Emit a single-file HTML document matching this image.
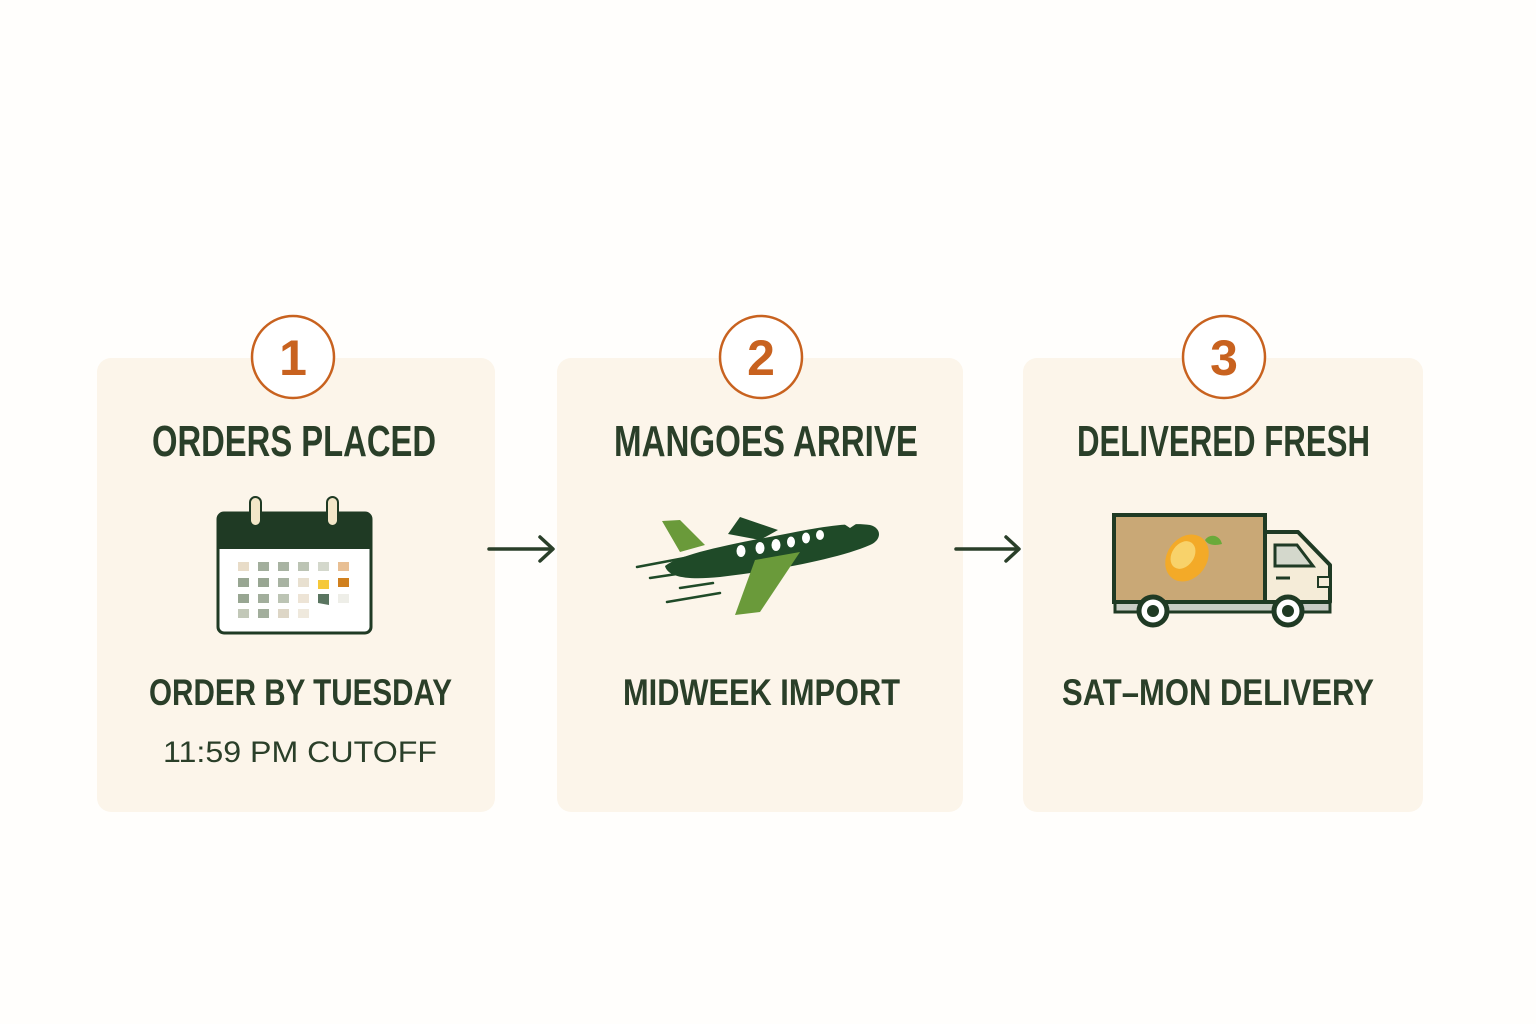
<!DOCTYPE html>
<html><head><meta charset="utf-8"><style>
html,body{margin:0;padding:0;background:#fff;}
svg{display:block}
.t{font-family:"Liberation Sans Narrow","Liberation Sans",sans-serif;font-weight:bold;fill:#2a3f29;}
.n{font-family:"Liberation Sans",sans-serif;fill:#c8621f;font-size:50px;font-weight:bold;}
</style></head><body>
<svg width="1536" height="1024" viewBox="0 0 1536 1024" xmlns="http://www.w3.org/2000/svg">
<rect width="1536" height="1024" fill="#fffefc"/>
<rect x="97" y="358" width="398" height="454" rx="14" fill="#fcf5ea"/>
<rect x="557" y="358" width="406" height="454" rx="14" fill="#fcf5ea"/>
<rect x="1023" y="358" width="400" height="454" rx="14" fill="#fcf5ea"/>
<g fill="#fff" stroke="#c8621f" stroke-width="2.5">
<circle cx="293" cy="357" r="41"/><circle cx="761" cy="357" r="41"/><circle cx="1224" cy="357" r="41"/>
</g>
<text class="n" x="293" y="375" text-anchor="middle">1</text>
<text class="n" x="761" y="375" text-anchor="middle">2</text>
<text class="n" x="1224" y="375" text-anchor="middle">3</text>
<text class="t" x="152" y="456" font-size="44" textLength="284" lengthAdjust="spacingAndGlyphs">ORDERS PLACED</text>
<text class="t" x="614" y="456" font-size="44" textLength="304" lengthAdjust="spacingAndGlyphs">MANGOES ARRIVE</text>
<text class="t" x="1077" y="456" font-size="44" textLength="293" lengthAdjust="spacingAndGlyphs">DELIVERED FRESH</text>
<text class="t" x="149" y="705" font-size="37" textLength="303" lengthAdjust="spacingAndGlyphs">ORDER BY TUESDAY</text>
<text class="t" x="623" y="705" font-size="37" textLength="277" lengthAdjust="spacingAndGlyphs">MIDWEEK IMPORT</text>
<text class="t" x="1062" y="705" font-size="37" textLength="312" lengthAdjust="spacingAndGlyphs">SAT–MON DELIVERY</text>
<text x="163" y="762" font-family="Liberation Sans,sans-serif" font-size="30" fill="#2a3f29" textLength="274" lengthAdjust="spacingAndGlyphs">11:59 PM CUTOFF</text>
<g stroke="#2a3f29" stroke-width="3.5" fill="none" stroke-linecap="round" stroke-linejoin="round">
<line x1="489" y1="549" x2="552" y2="549"/><polyline points="540,537 553,549 540,561"/>
<line x1="956" y1="549" x2="1018" y2="549"/><polyline points="1006,537 1019,549 1006,561"/>
</g>
<rect x="218" y="513" width="153" height="120" rx="6" fill="#fff" stroke="#1f3a24" stroke-width="3"/>
<path d="M218 549 V519 a6 6 0 0 1 6 -6 H365 a6 6 0 0 1 6 6 V549 Z" fill="#1f3a24"/>
<rect x="250" y="497" width="11" height="29" rx="5.5" fill="#f3e6c8" stroke="#1f3a24" stroke-width="2"/>
<rect x="327" y="497" width="11" height="29" rx="5.5" fill="#f3e6c8" stroke="#1f3a24" stroke-width="2"/>
<g>
<rect x="238" y="562" width="11" height="9" fill="#e8dcc8"/><rect x="258" y="562" width="11" height="9" fill="#a2ae9c"/><rect x="278" y="562" width="11" height="9" fill="#a8b3a2"/><rect x="298" y="562" width="11" height="9" fill="#bcc4b4"/><rect x="318" y="562" width="11" height="9" fill="#d4d8cc"/><rect x="338" y="562" width="11" height="9" fill="#e8bf94"/>
<rect x="238" y="578" width="11" height="9" fill="#98a692"/><rect x="258" y="578" width="11" height="9" fill="#98a692"/><rect x="278" y="578" width="11" height="9" fill="#a8b3a2"/><rect x="298" y="578" width="11" height="9" fill="#e8e0d0"/><rect x="318" y="580" width="11" height="9" fill="#f5c83a"/><rect x="338" y="578" width="11" height="9" fill="#d0801e"/>
<rect x="238" y="594" width="11" height="9" fill="#98a692"/><rect x="258" y="594" width="11" height="9" fill="#a2ae9c"/><rect x="278" y="594" width="11" height="9" fill="#bcc4b4"/><rect x="298" y="594" width="11" height="9" fill="#ede4d6"/><path d="M318 594 h11 v11 l-11 -2 Z" fill="#5a7560"/><rect x="338" y="594" width="11" height="9" fill="#eeeee8"/>
<rect x="238" y="609" width="11" height="9" fill="#c2c8b8"/><rect x="258" y="609" width="11" height="9" fill="#a2ae9c"/><rect x="278" y="609" width="11" height="9" fill="#ddd6c6"/><rect x="298" y="609" width="11" height="9" fill="#efe9dd"/>
</g>
<g>
<path d="M662 521 L680 520 L705 545 L680 552 Z" fill="#6a9a3a"/>
<path d="M728 534 L740 517 L778 530 L760 540 Z" fill="#1f4a28"/>
<path d="M665 566 C680 555 720 546 780 535 C820 527 850 522 870 525 C882 528 882 540 870 545 C840 558 780 570 720 577 C690 580 668 578 665 566 Z" fill="#1f4a28"/>
<path d="M838 520 C845 516 856 516 862 520 L850 528 Z" fill="#fcf5ea"/>
<path d="M755 560 L800 552 L760 612 L735 615 Z" fill="#6a9a3a"/>
<g fill="#fff"><ellipse cx="741" cy="551" rx="4.5" ry="6"/><ellipse cx="760" cy="548" rx="4.5" ry="6"/><ellipse cx="776" cy="545" rx="4.5" ry="6"/><ellipse cx="791" cy="542" rx="4" ry="5.5"/><ellipse cx="806" cy="538" rx="4" ry="5.5"/><ellipse cx="820" cy="535" rx="4" ry="5"/></g>
<g stroke="#1f4a28" stroke-width="2.5" stroke-linecap="round"><line x1="637" y1="567" x2="690" y2="557"/><line x1="650" y1="578" x2="690" y2="572"/><line x1="680" y1="588" x2="713" y2="583"/><line x1="667" y1="602" x2="720" y2="593"/></g>
</g>
<g>
<rect x="1115" y="600" width="215" height="12" fill="#c8ccc4" stroke="#1f3a24" stroke-width="3"/>
<rect x="1114" y="515" width="151" height="87" fill="#c9a876" stroke="#1f3a24" stroke-width="4"/>
<path d="M1265 532 H1298 L1330 565 V602 H1265 Z" fill="#f5ecd8" stroke="#1f3a24" stroke-width="4" stroke-linejoin="round"/>
<path d="M1275 545 H1297 L1313 566 H1275 Z" fill="#d4d8cc" stroke="#1f3a24" stroke-width="3"/>
<rect x="1318" y="577" width="12" height="10" fill="#f5ecd8" stroke="#1f3a24" stroke-width="2"/>
<line x1="1276" y1="578" x2="1290" y2="578" stroke="#1f3a24" stroke-width="3"/>
<ellipse cx="1187" cy="558" rx="20" ry="25" transform="rotate(35 1187 558)" fill="#f3aa28"/>
<ellipse cx="1183" cy="555" rx="11" ry="15" transform="rotate(35 1183 555)" fill="#f8d26a"/>
<path d="M1205 540 C1210 533 1220 535 1222 544 C1214 546 1208 545 1205 540Z" fill="#6aaa3a"/>
<g fill="#fff" stroke="#1f3a24" stroke-width="5"><circle cx="1153" cy="611" r="14"/><circle cx="1288" cy="611" r="14"/></g>
<g fill="#1f3a24"><circle cx="1153" cy="611" r="6"/><circle cx="1288" cy="611" r="6"/></g>
</g>
</svg>
</body></html>
